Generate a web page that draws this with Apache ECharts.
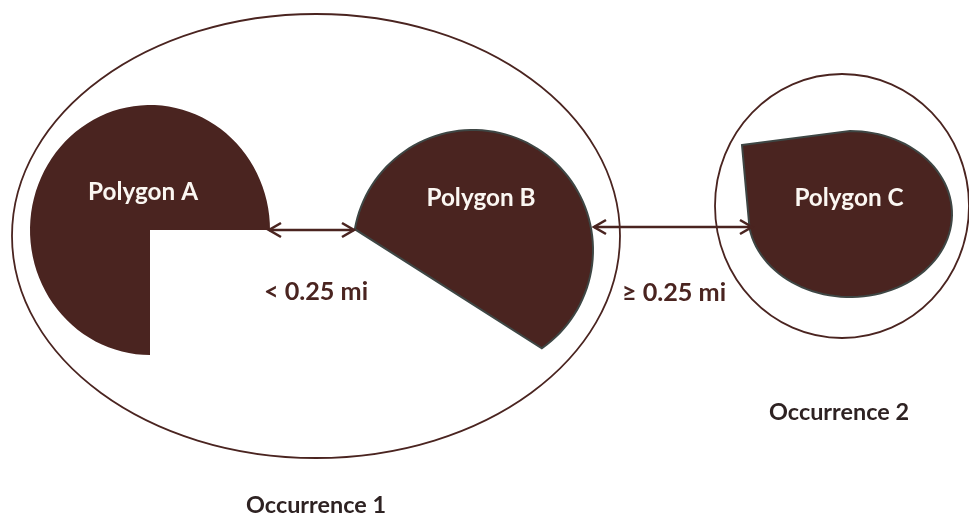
<!DOCTYPE html>
<html>
<head>
<meta charset="utf-8">
<script src="https://cdn.jsdelivr.net/npm/echarts@6/dist/echarts.min.js"></script>
<style>
  html, body { margin: 0; padding: 0; background: #fff; }
  #chart { width: 969px; height: 515px; }
</style>
</head>
<body>
<div id="chart"></div>
<script>
// diagram values, in diagram units (x right, y down)
const polygonNames = ["Polygon A", "Polygon B", "Polygon C"];
const occurrenceNames = ["Occurrence 1", "Occurrence 2"];
const distanceLabels = ["< 0.25 mi", "≥ 0.25 mi"];

// occurrence outlines: cx, cy, rx, ry
const occurrenceRings = [
  [316, 236, 304, 222],
  [842, 206, 127, 132],
];
// polygon A: three-quarter disc (cx, cy, rx, ry, start angle, end angle)
const polyA = [150, 230, 120, 125, 0, 270];
// polygon B: circle segment cut by a chord
const polyB = [473, 250, 120, 120, 170, -55];
// polygon C: drop shape, a corner plus an arc
const polyCCorner = [742, 145];
const polyC = [850, 214, 102, 83, 90, -170];

// distance arrows: from, to
const distanceArrows = [
  [[269, 230], [354, 230]],
  [[594, 227], [752, 227]],
];
const polygonLabelAt = [[143, 192], [481, 198], [849, 198]];
const distanceLabelAt = [[316, 292], [674, 293]];
const occurrenceLabelAt = [[316, 505], [839, 412]];

const brown = "#4a2420";
const edge = "#3e4644";

// font sizes fitted to the label widths seen in the picture
const ctx = document.createElement("canvas").getContext("2d");
function fitFont(text, width) {
  ctx.font = "bold 100px Lato";
  const size = (100 * width) / ctx.measureText(text).width;
  return "bold " + size.toFixed(1) + "px Lato";
}
const polygonFont = fitFont("Polygon A", 110);
const distanceFont = fitFont("< 0.25 mi", 104);
const occurrenceFont = fitFont("Occurrence 2", 140);

const chart = echarts.init(document.getElementById("chart"));

function arcPoints(p) {
  const [cx, cy, rx, ry, a0, a1] = p;
  const pts = [];
  const n = 80;
  for (let i = 0; i <= n; i++) {
    const t = ((a0 + (a1 - a0) * i / n) * Math.PI) / 180;
    pts.push([cx + rx * Math.cos(t), cy - ry * Math.sin(t)]);
  }
  return pts;
}

const polygonOutlines = [
  [[polyA[0], polyA[1]]].concat(arcPoints(polyA)),
  arcPoints(polyB),
  [polyCCorner].concat(arcPoints(polyC)),
];

chart.setOption({
  animation: false,
  grid: { left: 0, right: 0, top: 0, bottom: 0 },
  xAxis: { type: "value", min: 0, max: 969, show: false },
  yAxis: { type: "value", min: 0, max: 515, inverse: true, show: false },
  series: [
    {
      type: "custom",
      clip: false,
      data: occurrenceRings,
      renderItem: function (params, api) {
        const c = api.coord([api.value(0), api.value(1)]);
        const s = api.size([api.value(2), api.value(3)]);
        return {
          type: "ellipse",
          shape: { cx: c[0], cy: c[1], rx: s[0], ry: s[1] },
          style: { fill: "none", stroke: brown, lineWidth: 1.8 },
        };
      },
    },
    {
      type: "custom",
      clip: false,
      data: polygonNames.map((n, i) => polygonLabelAt[i]),
      renderItem: function (params, api) {
        const i = params.dataIndex;
        const pts = polygonOutlines[i].map((p) => api.coord(p));
        const at = api.coord(polygonLabelAt[i]);
        return {
          type: "group",
          children: [
            {
              type: "polygon",
              shape: { points: pts },
              style: {
                fill: brown,
                stroke: i === 0 ? null : edge,
                lineWidth: i === 0 ? 0 : 2,
              },
            },
            {
              type: "text",
              x: at[0],
              y: at[1],
              style: {
                text: polygonNames[i],
                fill: "#fbf7f2",
                font: polygonFont,
                align: "center",
                verticalAlign: "middle",
              },
            },
          ],
        };
      },
    },
    {
      type: "custom",
      clip: false,
      data: distanceArrows.map((a) => a[0]),
      renderItem: function (params, api) {
        const i = params.dataIndex;
        const p0 = api.coord(distanceArrows[i][0]);
        const p1 = api.coord(distanceArrows[i][1]);
        const len = Math.hypot(p1[0] - p0[0], p1[1] - p0[1]);
        const dx = (p1[0] - p0[0]) / len, dy = (p1[1] - p0[1]) / len;
        const head = (tip, sx, sy) => ({
          type: "polyline",
          shape: {
            points: [
              [tip[0] - sx * 12 - sy * 7, tip[1] - sy * 12 + sx * 7],
              tip,
              [tip[0] - sx * 12 + sy * 7, tip[1] - sy * 12 - sx * 7],
            ],
          },
          style: { fill: null, stroke: brown, lineWidth: 2.6, lineJoin: "miter" },
        });
        const lab = api.coord(distanceLabelAt[i]);
        return {
          type: "group",
          children: [
            {
              type: "line",
              shape: { x1: p0[0], y1: p0[1], x2: p1[0], y2: p1[1] },
              style: { stroke: brown, lineWidth: 2.6 },
            },
            head(p1, dx, dy),
            head(p0, -dx, -dy),
            {
              type: "text",
              x: lab[0],
              y: lab[1],
              style: {
                text: distanceLabels[i],
                fill: brown,
                font: distanceFont,
                align: "center",
                verticalAlign: "middle",
              },
            },
          ],
        };
      },
    },
    {
      type: "custom",
      clip: false,
      data: occurrenceLabelAt,
      renderItem: function (params, api) {
        const at = api.coord([api.value(0), api.value(1)]);
        return {
          type: "text",
          x: at[0],
          y: at[1],
          style: {
            text: occurrenceNames[params.dataIndex],
            fill: "#2e2222",
            font: occurrenceFont,
            align: "center",
            verticalAlign: "middle",
          },
        };
      },
    },
  ],
});
</script>
</body>
</html>
